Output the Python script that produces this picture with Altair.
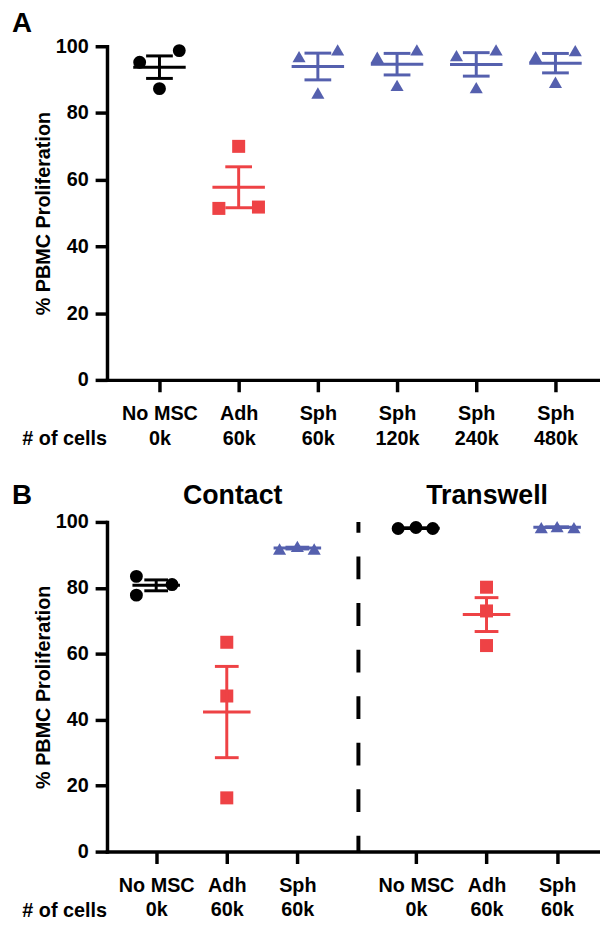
import altair as alt
import pandas as pd

FONT = "Liberation Sans"
BLACK = "#000000"
RED = "#EE4245"
BLUE = "#5560AE"

kinds = ["No MSC", "Adh", "Sph"]
kind_colors = [BLACK, RED, BLUE]
kind_shapes = ["circle", "square", "triangle-up"]

# ---- Panel A data ----
a_labels = ["No MSC|0k", "Adh|60k", "Sph|60k", "Sph|120k", "Sph|240k", "Sph|480k"]
a_kinds = ["No MSC", "Adh", "Sph", "Sph", "Sph", "Sph"]
a_values = [
    [95.2, 98.7, 87.3],
    [70.0, 51.4, 51.8],
    [96.9, 98.9, 86.0],
    [96.7, 98.9, 88.3],
    [97.2, 98.9, 87.6],
    [96.9, 98.7, 89.2],
]
a_jitter_px = [[-20, 20, 0], [0, -20, 20], [-19, 20, 0], [-20, 20, 0], [-20, 20, 0], [-20, 20, 0]]
a_pos = [0, 1, 2, 3, 4, 5]

# ---- Panel B data ----
b_labels = ["No MSC|0k", "Adh|60k", "Sph|60k", "No MSC|0k", "Adh|60k", "Sph|60k"]
b_kinds = ["No MSC", "Adh", "Sph", "No MSC", "Adh", "Sph"]
b_values = [
    [83.5, 77.8, 81.0],
    [63.5, 47.2, 16.3],
    [91.8, 92.6, 91.8],
    [98.0, 98.3, 98.0],
    [80.2, 73.0, 62.5],
    [98.3, 98.6, 98.3],
]
b_jitter_px = [[-20, -20, 16], [0, 0, 0], [-18, 0, 17], [-18, 0, 17], [0, 0, 0], [-16, 0, 17]]
b_pos = [0, 1, 2, 3.68, 4.68, 5.68]
b_divider = 2.865
b_sections = ["Contact", "Transwell"]

Y_TITLE = "% PBMC Proliferation"


def make_panel(labels, kinds_list, values, jitter, pos, d0, ppu, width, height,
               sizes, mean_half, cap_half, letter, letter_y, extra=None):
    rows = []
    for k, vals, jit, p in zip(kinds_list, values, jitter, pos):
        for v, j in zip(vals, jit):
            rows.append({"pos": p, "xj": p + j / ppu, "value": v, "kind": k})
    df = pd.DataFrame(rows)
    d1 = d0 + width / ppu
    xscale = alt.Scale(domain=[d0, d1], nice=False, zero=False)
    yscale = alt.Scale(domain=[0, 100], nice=False)
    label_arr = "[" + ",".join(f"'{l}'" for l in labels) + "]"
    pos_arr = "[" + ",".join(str(p) for p in pos) + "]"
    label_expr = f"split({label_arr}[indexof({pos_arr}, datum.value)], '|')"
    xaxis = alt.Axis(values=pos, labelExpr=label_expr, title=None, grid=False)
    yaxis = alt.Axis(values=[0, 20, 40, 60, 80, 100], title=Y_TITLE, grid=False)

    def X(f):
        return alt.X(f, type="quantitative", scale=xscale, axis=xaxis, title=None)

    def Y(f):
        return alt.Y(f, type="quantitative", scale=yscale, axis=yaxis, title=Y_TITLE)

    color = alt.Color("kind:N", scale=alt.Scale(domain=kinds, range=kind_colors), legend=None)
    base = alt.Chart(df)
    points = base.mark_point(filled=True, opacity=1).encode(
        x=X("xj"), y=Y("value"), color=color,
        shape=alt.Shape("kind:N", scale=alt.Scale(domain=kinds, range=kind_shapes), legend=None),
        size=alt.Size("kind:N", scale=alt.Scale(domain=kinds, range=sizes), legend=None),
    )
    stats = base.transform_aggregate(
        mean="mean(value)", sem="stderr(value)", groupby=["pos", "kind"]
    ).transform_calculate(lo="datum.mean - datum.sem", hi="datum.mean + datum.sem")
    mean_rule = stats.mark_rule(strokeWidth=3, xOffset=-mean_half, x2Offset=mean_half).encode(
        x=X("pos"), x2="pos", y=Y("mean"), color=color)
    vert = stats.mark_rule(strokeWidth=3).encode(x=X("pos"), y=Y("lo"), y2="hi", color=color)
    cap_hi = stats.mark_rule(strokeWidth=3, xOffset=-cap_half, x2Offset=cap_half).encode(
        x=X("pos"), x2="pos", y=Y("hi"), color=color)
    cap_lo = stats.mark_rule(strokeWidth=3, xOffset=-cap_half, x2Offset=cap_half).encode(
        x=X("pos"), x2="pos", y=Y("lo"), color=color)

    letter_t = alt.Chart(pd.DataFrame({"t": [letter]})).mark_text(
        font=FONT, fontSize=28, fontWeight="bold", align="left", baseline="alphabetic", color="black"
    ).encode(text="t:N", x=alt.value(-96), y=alt.value(letter_y))
    cells_t = alt.Chart(pd.DataFrame({"t": ["# of cells"]})).mark_text(
        font=FONT, fontSize=20, fontWeight="bold", align="right", baseline="alphabetic", color="black"
    ).encode(text="t:N", x=alt.value(0), y=alt.value(height + 66))

    layers = [points, mean_rule, vert, cap_hi, cap_lo, letter_t, cells_t]
    if extra is not None:
        layers += extra(X, xscale, xaxis, height)
    return alt.layer(*layers).properties(width=width, height=height)


W = 498

panel_a = make_panel(a_labels, a_kinds, a_values, a_jitter_px, a_pos, -0.6625, 80.0, W, 337,
                     [170, 175, 330], 26.5, 13.5, "A", -14.5)


def b_extra(X, xscale, xaxis, height):
    divider = alt.Chart(pd.DataFrame({"x": [b_divider]})).mark_rule(
        strokeDash=[23, 24], strokeDashOffset=12, strokeWidth=4, color="black"
    ).encode(x=X("x"), y=alt.value(0), y2=alt.value(height))
    sec = alt.Chart(pd.DataFrame({"t": b_sections, "cx": [127, 384]})).mark_text(
        font=FONT, fontSize=27, fontWeight="bold", align="center", baseline="alphabetic", color="black"
    ).encode(text="t:N", x=alt.X("cx:Q", scale=None), y=alt.value(-18))
    return [divider, sec]


panel_b = make_panel(b_labels, b_kinds, b_values, b_jitter_px, b_pos, -0.697, 71.3, W, 333,
                     [170, 175, 220], 24, 12, "B", -18.5, extra=b_extra)

chart = alt.vconcat(panel_a, panel_b, spacing=143.5, bounds="flush").properties(
    padding={"left": 4, "top": -3, "right": 0, "bottom": 0}
).configure_axis(
    domainColor="black", domainWidth=3.5, tickColor="black", tickWidth=3.5, tickSize=12,
    labelFont=FONT, labelFontSize=20, labelFontWeight="bold", labelColor="black",
    titleFont=FONT, titleFontSize=20, titleFontWeight="bold", titleColor="black",
    domainCap="square",
).configure_axisX(labelPadding=12, labelLineHeight=25, labelAngle=0
).configure_axisY(labelPadding=7, titlePadding=2
).configure_view(stroke=None)

chart.save("out.html", embed_options={"renderer": "svg", "actions": False})
